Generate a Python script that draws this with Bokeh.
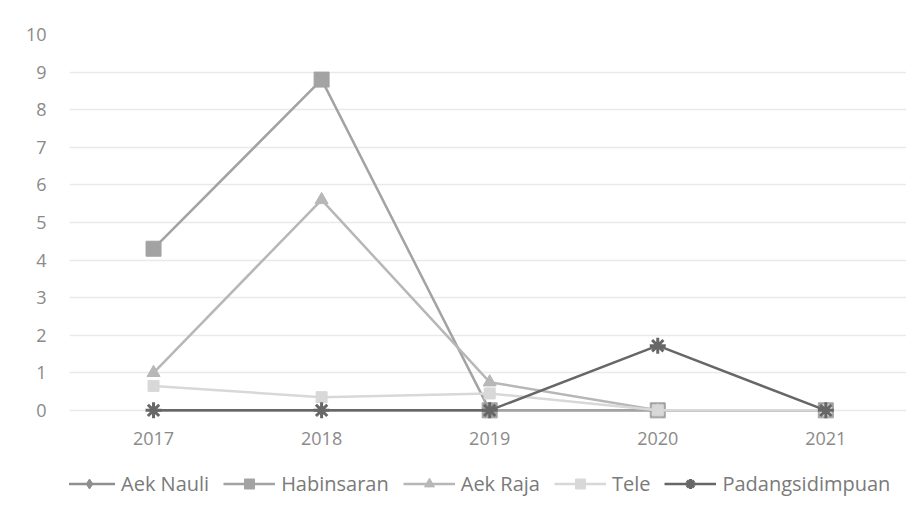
from bokeh.plotting import figure
from bokeh.layouts import column
from bokeh.models import Range1d, Legend, LegendItem, FixedTicker
from bokeh.embed import file_html
from bokeh.resources import INLINE

# Yearly values per station
years = [2017, 2018, 2019, 2020, 2021]
aek_nauli = [0, 0, 0, 0, 0]
habinsaran = [4.3, 8.8, 0, 0, 0]
aek_raja = [1.0, 5.6, 0.75, 0, 0]
tele = [0.65, 0.35, 0.45, 0, 0]
padangsidimpuan = [0, 0, 0, 1.72, 0]

y_ticks = [0, 1, 2, 3, 4, 5, 6, 7, 8, 9, 10]

FONT = "Open Sans"

series = [
    ("Aek Nauli", aek_nauli, "#8f8f8f", "diamond", 12),
    ("Habinsaran", habinsaran, "#a3a3a3", "square", 15),
    ("Aek Raja", aek_raja, "#b7b7b7", "triangle", 13),
    ("Tele", tele, "#d8d8d8", "square", 11),
    ("Padangsidimpuan", padangsidimpuan, "#676767", "asterisk", 16),
]


def draw_series(fig, name, vals, color, marker, size):
    ln = fig.line(years, vals, line_color=color, line_width=2.5)
    if marker == "asterisk":
        mk = fig.scatter(years, vals, marker=marker, size=size,
                         line_color=color, line_width=3)
    else:
        mk = fig.scatter(years, vals, marker=marker, size=size,
                         fill_color=color, line_color=color)
    return ln, mk


# main chart; the value range dips a little under zero so markers at 0 stay whole
p = figure(
    width=906, height=460,
    output_backend="svg", toolbar_location=None,
    x_range=Range1d(2016.5, 2021.48), y_range=Range1d(-0.35, 10),
    min_border_left=69, min_border_right=0,
    min_border_top=34, min_border_bottom=37,
)
p.outline_line_color = None
p.border_fill_color = "white"

p.xaxis.ticker = FixedTicker(ticks=years)
p.yaxis.ticker = FixedTicker(ticks=y_ticks)
for ax in (p.xaxis[0], p.yaxis[0]):
    ax.axis_line_color = None
    ax.major_tick_line_color = None
    ax.minor_tick_line_color = None
    ax.major_label_text_font = FONT
    ax.major_label_text_color = "#8a8a8a"
    ax.major_label_text_font_size = "18px"
p.xaxis.major_label_standoff = 2
p.yaxis.major_label_standoff = 17

p.xgrid.grid_line_color = None
p.ygrid.grid_line_color = "#e9e9e9"
p.ygrid.grid_line_width = 1.5

for name, vals, color, marker, size in series:
    draw_series(p, name, vals, color, marker, size)

# legend strip under the chart
leg = figure(
    width=906, height=51,
    output_backend="svg", toolbar_location=None,
    x_range=Range1d(0, 1), y_range=Range1d(0, 1),
    x_axis_location=None, y_axis_location=None,
    min_border=0,
)
leg.grid.visible = False
leg.outline_line_color = None

items = []
for name, vals, color, marker, size in series:
    ln, mk = draw_series(leg, name, vals, color, marker, size)
    items.append(LegendItem(label=name, renderers=[ln, mk]))

legend = Legend(
    items=items, orientation="horizontal",
    location=(-6, 14),
    glyph_width=52, glyph_height=25,
    label_standoff=6, spacing=14,
    padding=0, margin=0,
    border_line_color=None, background_fill_alpha=0,
    label_text_font=FONT, label_text_font_size="20px",
    label_text_color="#7a7a7a",
)
leg.add_layout(legend, "center")

open("out.html", "w").write(file_html(column(p, leg, spacing=0), INLINE))
